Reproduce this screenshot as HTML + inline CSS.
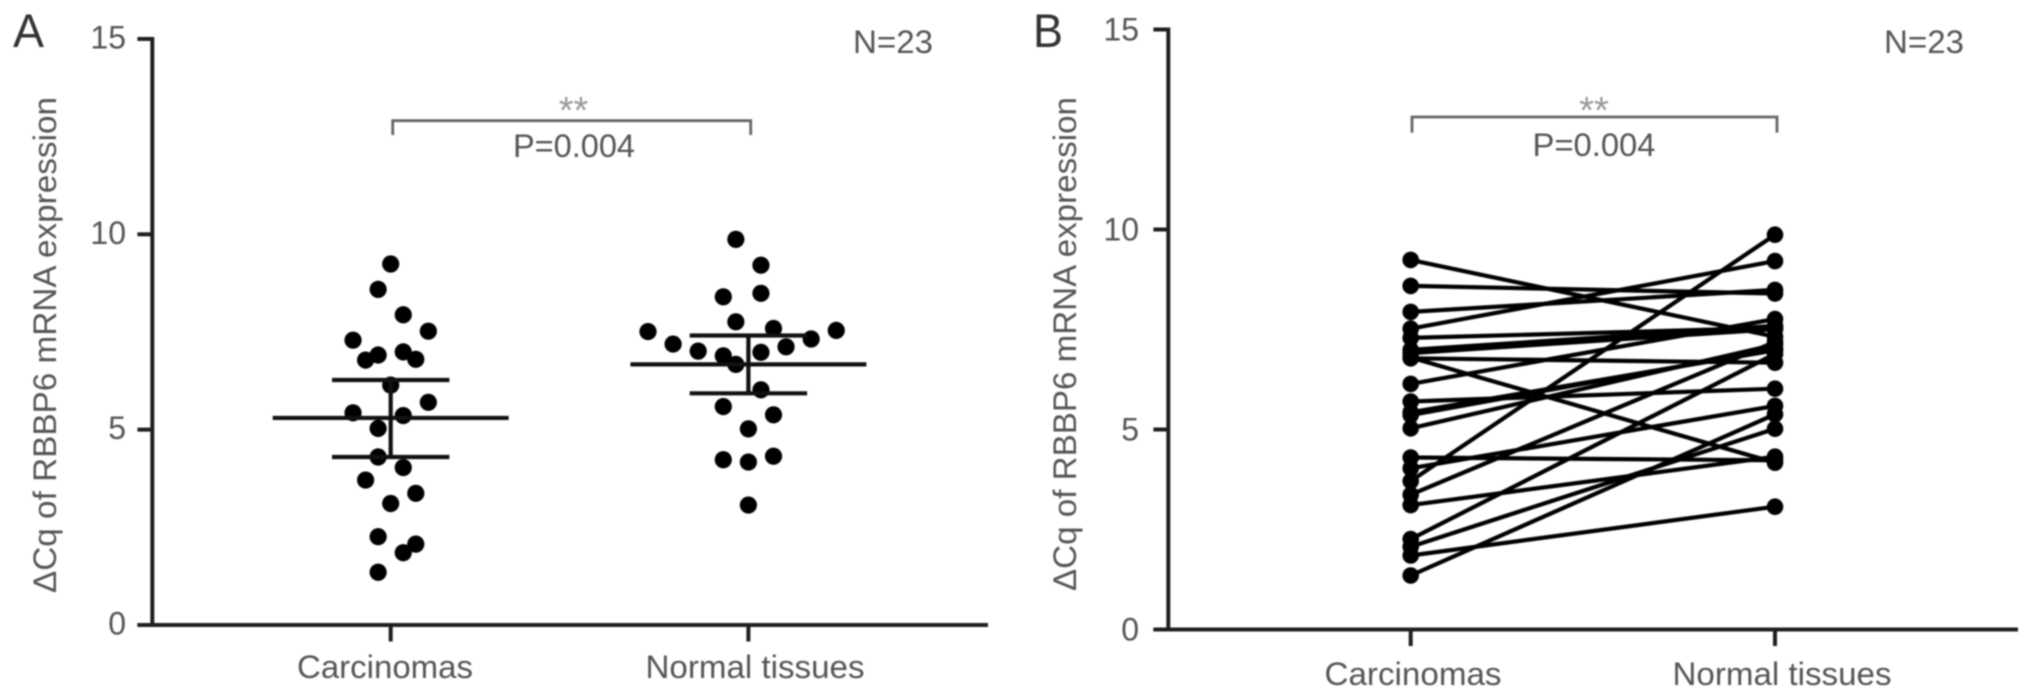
<!DOCTYPE html>
<html lang="en">
<head>
<meta charset="utf-8">
<title>RBBP6 mRNA expression</title>
<style>
  html, body { margin: 0; padding: 0; background: #fff; }
  body { width: 2032px; height: 700px; overflow: hidden; }
  svg { display: block; filter: blur(0.8px); }
  text { font-family: "Liberation Sans", "DejaVu Sans", sans-serif; fill: #555; font-size: 32px; }
  .axis { stroke: #1f1f1f; stroke-width: 4; fill: none; }
  .bracket { stroke: #666; stroke-width: 2.8; fill: none; }
  text.stars { fill: #999; font-size: 38px; }
  text.letter { fill: #333; font-size: 47px; }
</style>
</head>
<body>
<svg id="figure" width="2032" height="700" viewBox="0 0 2032 700" xmlns="http://www.w3.org/2000/svg">
  <rect x="0" y="0" width="2032" height="700" fill="#fff"/>

  <g id="panel-a">
    <text class="letter" x="13" y="47" textLength="31" lengthAdjust="spacingAndGlyphs">A</text>
    <text transform="translate(56 593) rotate(-90)" textLength="496" lengthAdjust="spacingAndGlyphs">ΔCq of RBBP6 mRNA expression</text>
    <text x="853" y="53" textLength="80" lengthAdjust="spacingAndGlyphs">N=23</text>
    <path class="bracket" d="M392.7 135V120.7H750.7V135"/>
    <text class="stars" x="573.5" y="123" text-anchor="middle">**</text>
    <text x="513" y="157" textLength="122" lengthAdjust="spacingAndGlyphs">P=0.004</text>
    <text x="297" y="678" textLength="176" lengthAdjust="spacingAndGlyphs">Carcinomas</text>
    <text x="645.5" y="678" textLength="219" lengthAdjust="spacingAndGlyphs">Normal tissues</text>
  </g>

  <g id="panel-b">
    <text class="letter" x="1033" y="47" textLength="30" lengthAdjust="spacingAndGlyphs">B</text>
    <text transform="translate(1076 591) rotate(-90)" textLength="494" lengthAdjust="spacingAndGlyphs">ΔCq of RBBP6 mRNA expression</text>
    <text x="1884" y="53" textLength="80" lengthAdjust="spacingAndGlyphs">N=23</text>
    <path class="bracket" d="M1412 132.6V117H1777V132.6"/>
    <text class="stars" x="1594" y="123" text-anchor="middle">**</text>
    <text x="1532.5" y="156" textLength="123" lengthAdjust="spacingAndGlyphs">P=0.004</text>
    <text x="1324.5" y="685" textLength="177" lengthAdjust="spacingAndGlyphs">Carcinomas</text>
    <text x="1672.5" y="685" textLength="219" lengthAdjust="spacingAndGlyphs">Normal tissues</text>
  </g>
</svg>

<script>
// ---- Data ----
const yTickValues = [0, 5, 10, 15];
const groupIndexes = [0, 1];

// Carcinoma delta-Cq values (one per patient)
const carcinomaValues = [9.24, 8.59, 7.94, 7.52, 7.29, 6.78, 6.91, 6.99, 6.80, 6.14, 5.70, 5.43, 5.36, 5.03, 4.30, 4.03, 3.71, 3.37, 3.11, 2.26, 2.07, 1.85, 1.35];
// Swarm column of each carcinoma dot in panel A
const carcinomaSwarmColumns = [0, -1, 1, 3, -3, -2, -1, 1, 2, 0, 3, -3, 1, -1, -1, 1, -2, 2, 0, -1, 2, 1, -1];

// Normal tissue values in panel A's swarm order
const normalValues = [9.87, 9.21, 8.49, 8.40, 7.76, 7.59, 7.51, 7.54, 7.32, 7.19, 7.12, 7.01, 6.98, 6.89, 6.67, 6.02, 5.59, 5.38, 5.02, 4.32, 4.23, 4.17, 3.07];
const normalSwarmColumns = [-1, 1, 1, -2, -1, 2, -8, 7, 5, -6, 3, -4, 1, -2, -1, 1, -2, 2, 0, 2, -2, 0, 0];

// Normal tissue value paired with each entry of carcinomaValues (panel B)
const pairedNormalValues = [7.32, 8.40, 8.49, 9.21, 7.54, 6.67, 7.51, 7.59, 4.17, 7.76, 6.02, 6.98, 7.01, 7.12, 4.23, 5.59, 9.87, 7.19, 4.32, 6.89, 5.02, 3.07, 5.38];

// lower SD, mean, upper SD
const carcinomaSummary = [4.30, 5.30, 6.27];
const normalSummary = [5.93, 6.67, 7.41];

// ---- Axis functions ----
const NS = 'http://www.w3.org/2000/svg';
const yScaleA = v => 625 - v * 39.07;
const yScaleB = v => 629.5 - v * 40;
const xScaleA = i => 390.7 + i * 357.7;
const xScaleB = i => 1410.7 + i * 364.3;
const SWARM_STEP = 12.55;

function make(tag, attrs, parent) {
  const el = document.createElementNS(NS, tag);
  for (const k in attrs) el.setAttribute(k, attrs[k]);
  parent.appendChild(el);
  return el;
}

function drawAxes(parent, yScale, xScale, x0, xEnd, tickLeft, tickBottom, labelRight, labelOffset) {
  const yAxis = make('line', { x1: x0, x2: x0, y1: yScale(15) - 2, y2: yScale(0) + 2, class: 'axis' }, parent);
  
  
  const xAxis = make('line', { x1: tickLeft, x2: xEnd, y1: yScale(0), y2: yScale(0), class: 'axis' }, parent);
  
  
  yTickValues.forEach(v => {
    const tick = make('line', { x1: tickLeft, x2: x0, y1: yScale(v), y2: yScale(v), class: 'axis' }, parent);
    
    
    const label = make('text', { x: labelRight, y: yScale(v) + labelOffset, 'text-anchor': 'end' }, parent);
    label.textContent = String(v);
    
    
  });
  groupIndexes.forEach(i => {
    const tick = make('line', { x1: xScale(i), x2: xScale(i), y1: yScale(0), y2: tickBottom, class: 'axis' }, parent);
    
    
  });
}

function drawSummary(parent, cx, summary, name) {
  const style = { stroke: '#111', 'stroke-width': 4.2, fill: 'none' };
  const spine = make('line', Object.assign({ x1: cx, x2: cx, y1: yScaleA(summary[0]), y2: yScaleA(summary[2]) }, style), parent);
  
  
  const lowCap = make('line', Object.assign({ x1: cx - 58.7, x2: cx + 58.7, y1: yScaleA(summary[0]), y2: yScaleA(summary[0]) }, style), parent);
  
  
  const meanLine = make('line', Object.assign({ x1: cx - 118, x2: cx + 118, y1: yScaleA(summary[1]), y2: yScaleA(summary[1]) }, style), parent);
  
  
  const highCap = make('line', Object.assign({ x1: cx - 58.7, x2: cx + 58.7, y1: yScaleA(summary[2]), y2: yScaleA(summary[2]) }, style), parent);
  
  
}

function drawSwarm(parent, cx, values, columns, name) {
  values.forEach((v, i) => {
    const dot = make('circle', { cx: cx + columns[i] * SWARM_STEP, cy: yScaleA(v), r: 8.6, fill: '#000' }, parent);
    
    
  });
}

// ---- Panel A ----
const panelA = document.getElementById('panel-a');
drawAxes(panelA, yScaleA, xScaleA, 152.3, 988, 137.4, 641.5, 126, 9.5);
drawSwarm(panelA, xScaleA(0), carcinomaValues, carcinomaSwarmColumns, 'carcinoma');
drawSwarm(panelA, xScaleA(1), normalValues, normalSwarmColumns, 'normal');
drawSummary(panelA, xScaleA(0), carcinomaSummary, 'carcinoma');
drawSummary(panelA, xScaleA(1), normalSummary, 'normal');

// ---- Panel B ----
const panelB = document.getElementById('panel-b');
drawAxes(panelB, yScaleB, xScaleB, 1168.3, 2018, 1153.4, 646, 1139, 11);
carcinomaValues.forEach((v, i) => {
  const pair = make('line', {
    x1: xScaleB(0), y1: yScaleB(v), x2: xScaleB(1), y2: yScaleB(pairedNormalValues[i]),
    stroke: '#000', 'stroke-width': 4.2
  }, panelB);
  
  
});
carcinomaValues.forEach((v, i) => {
  const left = make('circle', { cx: xScaleB(0), cy: yScaleB(v), r: 8.3, fill: '#000' }, panelB);
  
  
  const right = make('circle', { cx: xScaleB(1), cy: yScaleB(pairedNormalValues[i]), r: 8.3, fill: '#000' }, panelB);
  
  
});
</script>
</body>
</html>
